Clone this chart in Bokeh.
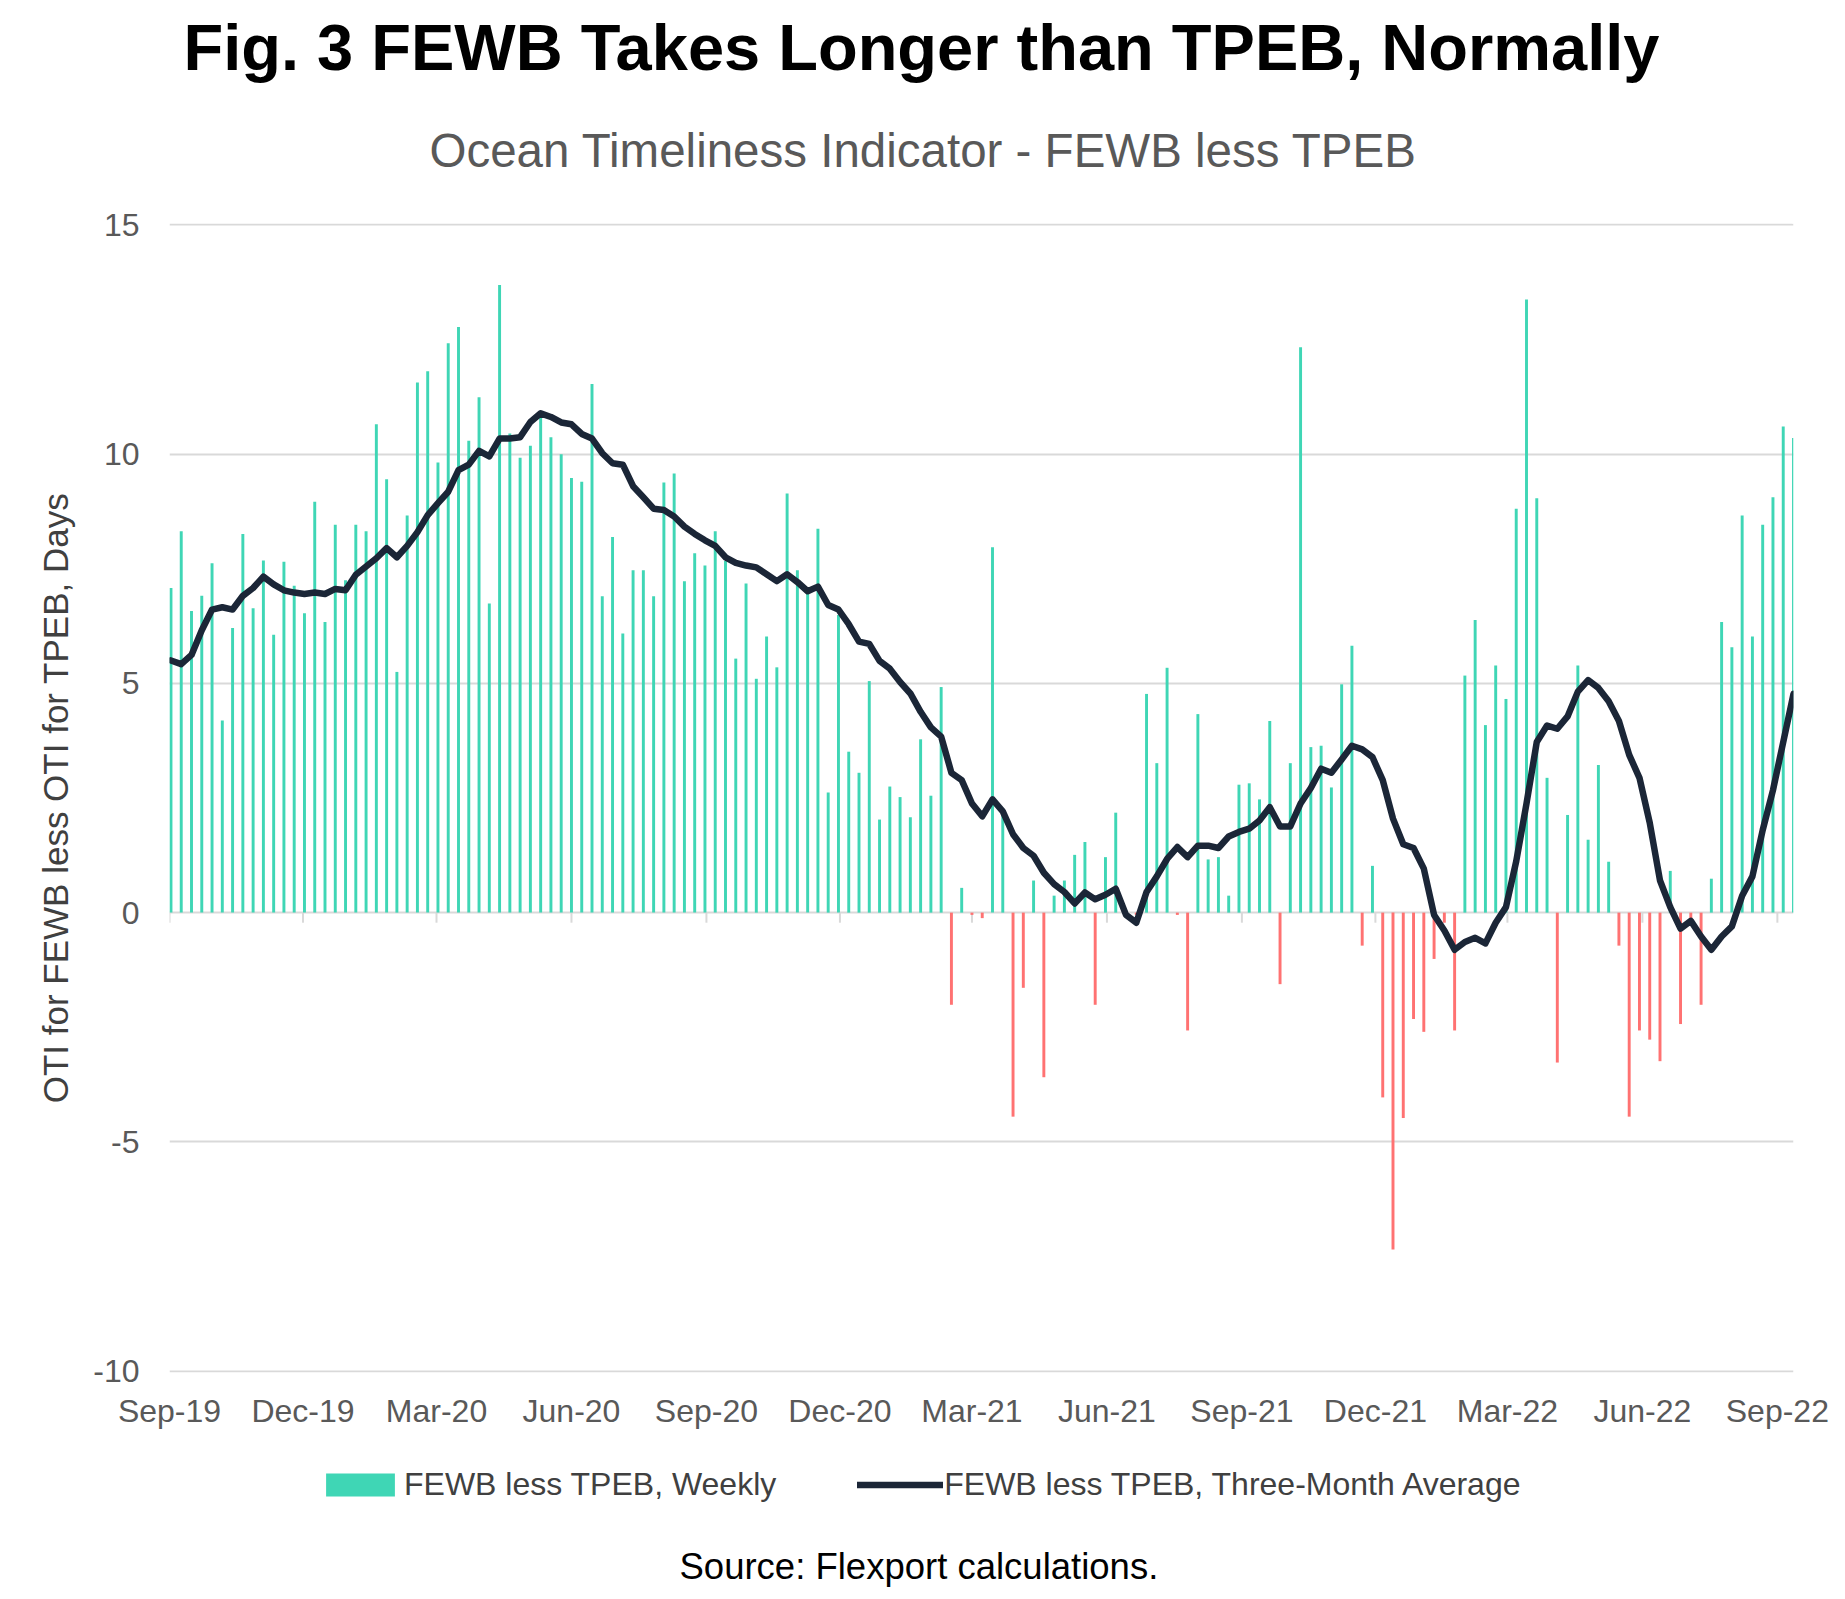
import pandas as pd
from bokeh.plotting import figure
from bokeh.layouts import column
from bokeh.models import (ColumnDataSource, Range1d, FixedTicker, Title, Legend,
                          LegendItem, DatetimeTickFormatter, LinearAxis,
                          PrintfTickFormatter)
from bokeh.embed import file_html
from bokeh.resources import INLINE

FONT = "Liberation Sans"
GREEN = "#3fd6b5"
RED = "#ff7272"
NAVY = "#1b2637"

# ---------------- data ----------------
tick_dates = ["2019-09-01", "2019-12-01", "2020-03-01", "2020-06-01", "2020-09-01",
              "2020-12-01", "2021-03-01", "2021-06-01", "2021-09-01", "2021-12-01",
              "2022-03-01", "2022-06-01", "2022-09-01"]
tick_labels = ["Sep-19", "Dec-19", "Mar-20", "Jun-20", "Sep-20", "Dec-20", "Mar-21",
               "Jun-21", "Sep-21", "Dec-21", "Mar-22", "Jun-22", "Sep-22"]
first_week = "2019-09-02"
axis_end = "2022-09-12"

weekly = [
    7.08, 8.32, 6.58, 6.91, 7.62, 4.19, 6.21, 8.26, 6.64, 7.68,
    6.06, 7.65, 7.13, 6.53, 8.96, 6.34, 8.46, 7.25, 8.46, 8.32,
    10.65, 9.45, 5.25, 8.66, 11.56, 11.81, 9.82, 12.42, 12.77, 10.29,
    11.24, 6.74, 13.69, 10.45, 9.92, 10.18, 10.79, 10.37, 10.00, 9.48,
    9.40, 11.53, 6.90, 8.19, 6.09, 7.47, 7.47, 6.90, 9.38, 9.58,
    7.23, 7.84, 7.57, 8.32, 7.67, 5.54, 7.18, 5.10, 6.02, 5.35,
    9.14, 7.47, 6.96, 8.37, 2.62, 6.49, 3.51, 3.05, 5.05, 2.03,
    2.75, 2.52, 2.08, 3.78, 2.55, 4.92, -2.01, 0.54, -0.05, -0.12,
    7.97, 2.13, -4.45, -1.64, 0.70, -3.59, 0.37, 0.70, 1.26, 1.54,
    -2.01, 1.21, 2.18, 0.05, -0.05, 4.77, 3.26, 5.34, -0.05, -2.57,
    4.33, 1.16, 1.21, 0.37, 2.79, 2.82, 2.47, 4.18, -1.56, 3.26,
    12.33, 3.61, 3.64, 2.73, 4.98, 5.82, -0.72, 1.02, -4.03, -7.35,
    -4.48, -2.32, -2.60, -1.01, -0.22, -2.57, 5.17, 6.38, 4.09, 5.39,
    4.66, 8.81, 13.37, 9.04, 2.94, -3.27, 2.13, 5.39, 1.59, 3.22,
    1.11, -0.72, -4.45, -2.57, -2.77, -3.24, 0.91, -2.43, -0.13, -2.01,
    0.74, 6.34, 5.79, 8.66, 6.02, 8.46, 9.06, 10.60, 10.35,
]

three_month_avg = [
    5.50, 5.42, 5.62, 6.16, 6.61, 6.66, 6.61, 6.91, 7.08, 7.33,
    7.16, 7.03, 6.98, 6.95, 6.98, 6.95, 7.06, 7.03, 7.37, 7.55,
    7.73, 7.95, 7.75, 8.00, 8.30, 8.67, 8.93, 9.18, 9.65, 9.77,
    10.07, 9.95, 10.34, 10.34, 10.37, 10.70, 10.89, 10.81, 10.69, 10.65,
    10.44, 10.34, 10.02, 9.80, 9.77, 9.30, 9.06, 8.81, 8.78, 8.64,
    8.42, 8.26, 8.12, 8.00, 7.75, 7.63, 7.57, 7.53, 7.38, 7.23,
    7.38, 7.21, 7.01, 7.11, 6.71, 6.61, 6.29, 5.91, 5.86, 5.49,
    5.32, 5.03, 4.78, 4.38, 4.04, 3.84, 3.05, 2.89, 2.38, 2.10,
    2.47, 2.21, 1.71, 1.41, 1.24, 0.87, 0.62, 0.45, 0.20, 0.44,
    0.29, 0.39, 0.52, -0.05, -0.22, 0.45, 0.79, 1.17, 1.43, 1.21,
    1.46, 1.46, 1.41, 1.66, 1.76, 1.83, 2.01, 2.30, 1.88, 1.88,
    2.38, 2.72, 3.14, 3.05, 3.34, 3.64, 3.56, 3.39, 2.89, 2.05,
    1.49, 1.41, 0.96, -0.05, -0.39, -0.81, -0.64, -0.55, -0.67, -0.22,
    0.12, 1.12, 2.38, 3.72, 4.08, 4.01, 4.28, 4.82, 5.07, 4.90,
    4.61, 4.18, 3.44, 2.94, 1.96, 0.70, 0.12, -0.35, -0.18, -0.52,
    -0.81, -0.52, -0.30, 0.37, 0.79, 1.80, 2.67, 3.72, 4.77,
]

y_ticks = [-10, -5, 0, 5, 10, 15]

# ---------------- sources ----------------
dates = pd.date_range(first_week, periods=len(weekly), freq="7D")
df = pd.DataFrame({"date": dates, "weekly": weekly, "avg": three_month_avg})
pos = df[df["weekly"] >= 0]
neg = df[df["weekly"] < 0]
src_pos = ColumnDataSource(dict(x=pos["date"], top=pos["weekly"]))
src_neg = ColumnDataSource(dict(x=neg["date"], top=neg["weekly"]))
src_line = ColumnDataSource(dict(x=df["date"], y=df["avg"]))


def ms(d):
    return pd.Timestamp(d).value / 1e6


tick_ms = [ms(d) for d in tick_dates]
DAY = 86400000.0

# ---------------- main figure ----------------
W = 1840
H_MAIN, H_FOOT = 1440, 156
x_range = Range1d(ms(tick_dates[0]), ms(axis_end))
p = figure(width=W, height=H_MAIN, x_axis_type="datetime",
           x_range=x_range, y_range=Range1d(-10.03, 15.03),
           output_backend="svg", toolbar_location=None, title=None,
           min_border_left=169, min_border_right=W - 1793,
           min_border_top=223, min_border_bottom=H_MAIN - 1372)
p.outline_line_color = None
p.background_fill_color = "white"
p.border_fill_color = "white"

# grid
p.xgrid.grid_line_color = None
p.ygrid.ticker = FixedTicker(ticks=y_ticks)
p.ygrid.grid_line_color = "#d9d9d9"
p.ygrid.grid_line_width = 2

# y axis
yax = p.yaxis[0]
yax.ticker = FixedTicker(ticks=y_ticks)
yax.formatter = PrintfTickFormatter(format="%d")
yax.axis_line_color = None
yax.major_tick_line_color = None
yax.minor_tick_line_color = None
yax.major_tick_out = 0
yax.major_tick_in = 0
yax.minor_tick_out = 0
yax.major_label_text_font = FONT
yax.major_label_text_font_size = "32px"
yax.major_label_text_color = "#595959"
yax.major_label_standoff = 30
yax.axis_label = "OTI for FEWB less OTI for TPEB, Days"
yax.axis_label_text_font = FONT
yax.axis_label_text_font_size = "35px"
yax.axis_label_text_font_style = "normal"
yax.axis_label_text_color = "#404040"
yax.axis_label_standoff = 15

# x axis
xax = p.xaxis[0]
xax.ticker = FixedTicker(ticks=tick_ms)
fmt = "%b-%y"
xax.formatter = DatetimeTickFormatter(milliseconds=fmt, seconds=fmt, minsec=fmt,
                                      minutes=fmt, hourmin=fmt, hours=fmt, days=fmt,
                                      months=fmt, years=fmt)
xax.axis_line_color = None
xax.major_tick_line_color = None
xax.minor_tick_line_color = None
xax.major_tick_out = 0
xax.major_tick_in = 0
xax.minor_tick_out = 0
xax.major_label_text_font = FONT
xax.major_label_text_font_size = "32px"
xax.major_label_text_color = "#595959"
xax.major_label_standoff = 20

# small tick marks on the zero line
p.segment(x0=tick_ms, y0=[0] * len(tick_ms), x1=tick_ms, y1=[-0.22] * len(tick_ms),
          line_color="#d9d9d9", line_width=2)

# bars
bw = 2.0 * DAY
bar_style = dict(x="x", top="top", bottom=0, width=bw, line_color=None)
r_pos = p.vbar(source=src_pos, fill_color=GREEN, **bar_style)
r_neg = p.vbar(source=src_neg, fill_color=RED, **bar_style)

# line
line_style = dict(line_color=NAVY, line_width=6.5, line_join="round", line_cap="round")
r_line = p.line(x="x", y="y", source=src_line, **line_style)

SPACER_AT = ms(axis_end) - 0.5 * DAY


def spacer(px):
    # blank axis used only to reserve vertical room between stacked title panels
    return LinearAxis(ticker=FixedTicker(ticks=[SPACER_AT]), axis_line_color=None,
                      major_tick_line_color="white", major_tick_line_width=1,
                      major_tick_in=0, major_tick_out=px,
                      minor_tick_line_color=None, minor_tick_in=0, minor_tick_out=0,
                      major_label_standoff=0, major_label_text_color=None,
                      major_label_text_font_size="1px")


# above (first added sits closest to the plot)
p.add_layout(spacer(45), "above")
p.add_layout(Title(text="Ocean Timeliness Indicator - FEWB less TPEB", align="left",
                   offset=260, text_font=FONT, text_font_size="47.5px",
                   text_font_style="normal", text_color="#595959", standoff=4), "above")
p.add_layout(spacer(34), "above")
p.add_layout(Title(text="Fig. 3 FEWB Takes Longer than TPEB, Normally", align="left",
                   offset=14, text_font=FONT, text_font_size="65px",
                   text_font_style="bold", text_color="black", standoff=4), "above")

# ---------------- footer: legend + source ----------------
# its frame is aligned with the main plot's frame (left edge at x=169)
f = figure(width=W, height=H_FOOT, output_backend="svg", toolbar_location=None,
           title=None, x_axis_location=None, y_axis_location=None,
           x_range=x_range, y_range=Range1d(500, 501),
           min_border_left=0, min_border_right=0, min_border_top=0, min_border_bottom=0)
f.outline_line_color = None
f.background_fill_color = "white"
f.border_fill_color = "white"
f.grid.visible = False

# legend keys: same data and styles as the main renderers, hidden in the footer
k_bar = f.vbar(source=src_pos, fill_color=GREEN, **bar_style)
k_line = f.line(x="x", y="y", source=src_line, **line_style)
k_bar.visible = False
k_line.visible = False

legend = Legend(items=[LegendItem(label="FEWB less TPEB, Weekly", renderers=[k_bar]),
                       LegendItem(label="FEWB less TPEB, Three-Month Average",
                                  renderers=[k_line])],
                orientation="horizontal", location=(148, 30),
                glyph_width=86, glyph_height=29, label_standoff=1, spacing=81,
                label_text_font=FONT, label_text_font_size="32px",
                label_text_color="#404040", border_line_color=None,
                background_fill_alpha=0, padding=0, margin=0,
                inactive_fill_alpha=0)
f.add_layout(legend, "center")

f.add_layout(Title(text="Source: Flexport calculations.", align="left", offset=510,
                   text_font=FONT, text_font_size="36.5px", text_font_style="normal",
                   text_color="black", standoff=20), "below")

layout = column(p, f, spacing=0)
open("out.html", "w").write(file_html(layout, INLINE))
